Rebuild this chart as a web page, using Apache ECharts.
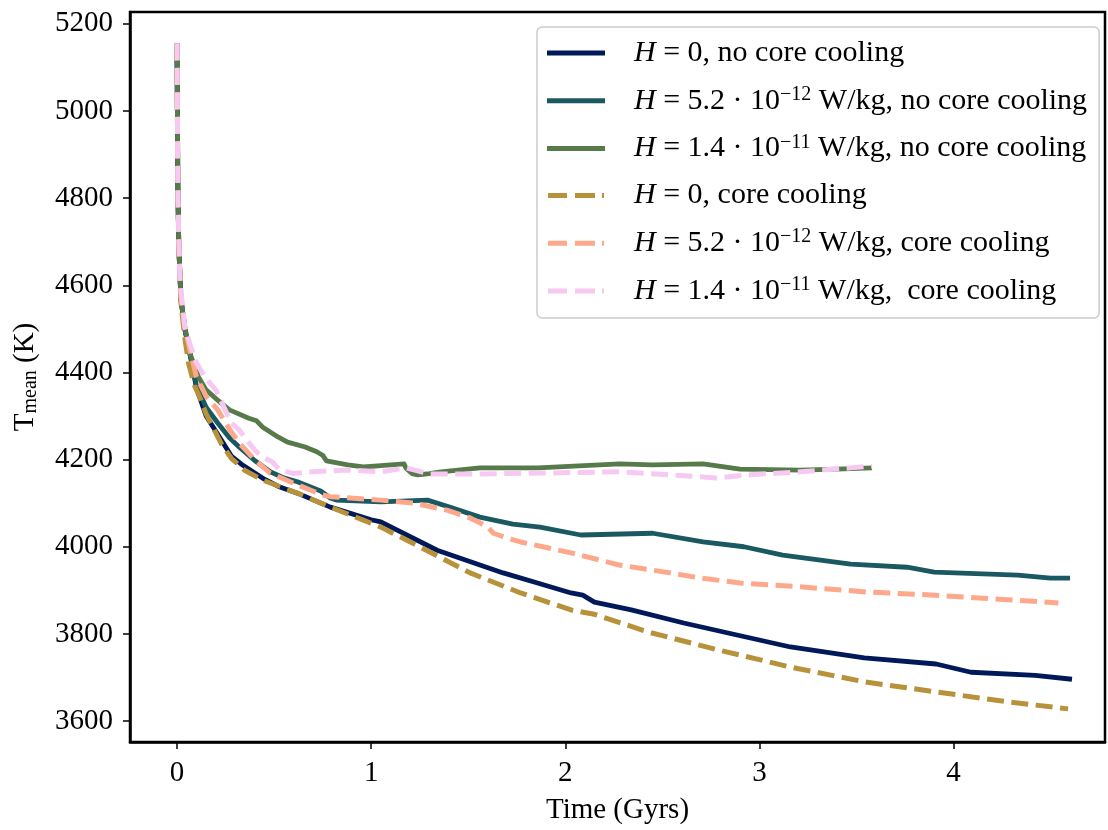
<!DOCTYPE html>
<html>
<head>
<meta charset="utf-8">
<script src="https://cdn.jsdelivr.net/npm/echarts@6/dist/echarts.min.js"></script>
<style>
html,body{margin:0;padding:0;background:#fff;}
#chart{width:1108px;height:830px;}
</style>
</head>
<body>
<div id="chart"></div>
<script>
// ---- data (Time in Gyrs, T_mean in K) ----
const xTicks = [0, 1, 2, 3, 4];
const yTicks = [3600, 3800, 4000, 4200, 4400, 4600, 4800, 5000, 5200];

const navyT = [0,0.002,0.005,0.01,0.02,0.04,0.07,0.1,0.15,0.21,0.28,0.33,0.45,0.53,0.62,0.79,1.0,1.05,1.34,1.68,1.87,2.03,2.09,2.15,2.34,2.61,2.89,3.16,3.54,3.91,4.09,4.42,4.61];
const navyV = [5155,5000,4800,4680,4570,4500,4436,4365,4300,4258,4208,4190,4155,4137,4123,4091,4062,4057,3992,3940,3915,3894,3889,3873,3855,3825,3797,3770,3745,3731,3712,3705,3696];

const tealT = [0,0.002,0.005,0.01,0.02,0.04,0.07,0.1,0.15,0.21,0.27,0.32,0.4,0.48,0.55,0.62,0.74,0.79,0.82,1.05,1.29,1.42,1.56,1.73,1.87,2.08,2.45,2.71,2.92,3.12,3.47,3.76,3.9,4.33,4.5,4.6];
const tealV = [5155,5000,4800,4680,4570,4500,4436,4370,4320,4284,4250,4229,4198,4172,4158,4149,4128,4112,4107,4103,4107,4089,4068,4052,4045,4027,4031,4011,4000,3981,3960,3953,3942,3935,3928,3928];

const greenT = [0,0.002,0.005,0.01,0.02,0.04,0.07,0.11,0.15,0.2,0.27,0.37,0.41,0.44,0.52,0.57,0.66,0.72,0.75,0.77,0.88,0.96,1.05,1.17,1.18,1.21,1.24,1.3,1.36,1.56,1.86,2.28,2.45,2.71,2.9,3.21,3.4,3.58];
const greenV = [5155,5000,4800,4680,4570,4505,4440,4390,4360,4340,4314,4295,4289,4275,4252,4240,4229,4218,4210,4197,4188,4183,4186,4190,4180,4168,4165,4168,4172,4181,4181,4190,4188,4190,4178,4176,4178,4181];

const goldT = [0,0.002,0.005,0.01,0.02,0.04,0.06,0.09,0.12,0.15,0.19,0.23,0.28,0.35,0.44,0.62,0.79,0.96,1.05,1.25,1.51,1.77,2.03,2.15,2.43,2.79,3.16,3.54,3.91,4.28,4.59];
const goldV = [5155,5000,4800,4680,4560,4480,4420,4370,4340,4305,4270,4235,4203,4175,4153,4123,4091,4061,4045,4000,3940,3894,3855,3845,3804,3763,3724,3690,3667,3644,3628];

const salmonT = [0,0.002,0.005,0.01,0.02,0.04,0.07,0.1,0.15,0.21,0.27,0.32,0.4,0.48,0.62,0.75,0.79,1.05,1.22,1.39,1.51,1.56,1.6,1.63,1.7,1.77,2.03,2.28,2.54,2.7,2.9,3.21,3.56,3.9,4.15,4.54];
const salmonV = [5155,5000,4800,4680,4575,4505,4445,4390,4345,4314,4270,4238,4200,4169,4142,4119,4115,4107,4100,4084,4066,4055,4045,4031,4020,4011,3986,3958,3940,3928,3917,3908,3896,3889,3882,3871];

const pinkT = [0,0.002,0.005,0.01,0.015,0.04,0.07,0.1,0.15,0.2,0.28,0.32,0.4,0.44,0.49,0.53,0.6,0.7,0.79,0.88,1.05,1.18,1.3,1.56,1.87,2.28,2.54,2.78,2.95,3.21,3.47,3.58];
const pinkV = [5155,5000,4800,4700,4612,4505,4460,4422,4385,4360,4284,4268,4222,4206,4195,4176,4168,4172,4174,4176,4172,4181,4167,4167,4169,4172,4165,4158,4165,4172,4181,4185];

const seriesNames = [
  'H=0, no core cooling',
  'H=5.2e-12 W/kg, no core cooling',
  'H=1.4e-11 W/kg, no core cooling',
  'H=0, core cooling',
  'H=5.2e-12 W/kg, core cooling',
  'H=1.4e-11 W/kg,  core cooling'
];
const legendRich = {
  'H=0, no core cooling': '{i|H}{t| = 0, no core cooling}',
  'H=5.2e-12 W/kg, no core cooling': '{i|H}{t| = 5.2 · 10}{s|−12}{t| W/kg, no core cooling}',
  'H=1.4e-11 W/kg, no core cooling': '{i|H}{t| = 1.4 · 10}{s|−11}{t| W/kg, no core cooling}',
  'H=0, core cooling': '{i|H}{t| = 0, core cooling}',
  'H=5.2e-12 W/kg, core cooling': '{i|H}{t| = 5.2 · 10}{s|−12}{t| W/kg, core cooling}',
  'H=1.4e-11 W/kg,  core cooling': '{i|H}{t| = 1.4 · 10}{s|−11}{t| W/kg,  core cooling}'
};

const colors = ['#011959', '#1b5962', '#577a4b', '#b8923a', '#fda88b', '#f7c9f2'];
const dashed = [false, false, false, true, true, true];
const seriesData = [
  [navyT, navyV], [tealT, tealV], [greenT, greenV],
  [goldT, goldV], [salmonT, salmonV], [pinkT, pinkV]
];

const solidIcon = 'path://M0,0H58V5H0Z';
const dashIcon = 'path://M2,0H21V5H2Z M29,0H49V5H29Z M56,0H58V5H56Z';

const FONT = 'Liberation Serif';
const FS = 29;
const chart = echarts.init(document.getElementById('chart'), null, {renderer: 'canvas'});

const series = seriesData.map((sd, k) => ({
  name: seriesNames[k],
  type: 'line',
  data: sd[0].map((t, j) => [t, sd[1][j]]),
  showSymbol: false,
  symbol: 'none',
  smooth: false,
  animation: false,
  z: 2 + k,
  lineStyle: {
    color: colors[k],
    width: dashed[k] ? 5 : 4.8,
    type: dashed[k] ? [17, 7.5] : 'solid',
    cap: 'butt',
    join: 'round'
  },
  itemStyle: {color: colors[k]}
}));

chart.setOption({
  backgroundColor: '#fff',
  animation: false,
  textStyle: {fontFamily: FONT},
  grid: {
    left: 130, top: 12, width: 975, height: 730,
    show: true, borderColor: '#000', borderWidth: 2.5, backgroundColor: 'transparent'
  },
  xAxis: {
    type: 'value', min: -0.242, max: 4.78,
    splitLine: {show: false},
    axisLine: {show: true, onZero: false, lineStyle: {color: '#000', width: 2.5}},
    axisTick: {show: true, inside: false, length: 7, lineStyle: {color: '#000', width: 1.5}, customValues: xTicks},
    axisLabel: {customValues: xTicks, color: '#000', fontSize: FS, fontFamily: FONT, margin: 17,
      formatter: v => String(v)},
    name: 'Time (Gyrs)', nameLocation: 'middle', nameGap: 54,
    nameTextStyle: {color: '#000', fontSize: FS, fontFamily: FONT}
  },
  yAxis: {
    type: 'value', min: 3552, max: 5227,
    splitLine: {show: false},
    axisLine: {show: true, onZero: false, lineStyle: {color: '#000', width: 2.5}},
    axisTick: {show: true, inside: false, length: 7, lineStyle: {color: '#000', width: 1.5}, customValues: yTicks},
    axisLabel: {customValues: yTicks, color: '#000', fontSize: FS, fontFamily: FONT, margin: 17,
      formatter: v => String(v)},
    name: '{t|T}{sub|mean}{t| (K)}', nameLocation: 'middle', nameGap: 89, nameRotate: 90,
    nameTextStyle: {
      color: '#000', fontSize: FS, fontFamily: FONT,
      rich: {
        t: {fontSize: FS, fontFamily: FONT, color: '#000', lineHeight: 32, verticalAlign: 'middle'},
        sub: {fontSize: 20, fontFamily: FONT, color: '#000', lineHeight: 20, verticalAlign: 'bottom'}
      }
    }
  },
  legend: {
    data: seriesNames.map((n, k) => ({name: n, icon: dashed[k] ? dashIcon : solidIcon})),
    orient: 'vertical',
    left: 537, top: 27,
    padding: [11, 12, 12, 10],
    itemWidth: 58, itemHeight: 5, itemGap: 16.8,
    backgroundColor: 'rgba(255,255,255,0.85)',
    borderColor: '#cccccc', borderWidth: 1.5, borderRadius: 5,
    formatter: name => legendRich[name],
    textStyle: {
      color: '#000', fontSize: 30, fontFamily: FONT, padding: [0, 0, 0, 24],
      rich: {
        i: {fontSize: 30, fontFamily: FONT, fontStyle: 'italic', color: '#000', lineHeight: 32, verticalAlign: 'middle'},
        t: {fontSize: 30, fontFamily: FONT, color: '#000', lineHeight: 32, verticalAlign: 'middle'},
        s: {fontSize: 20, fontFamily: FONT, color: '#000', lineHeight: 18, verticalAlign: 'top'}
      }
    }
  },
  series: series
});
</script>
</body>
</html>
